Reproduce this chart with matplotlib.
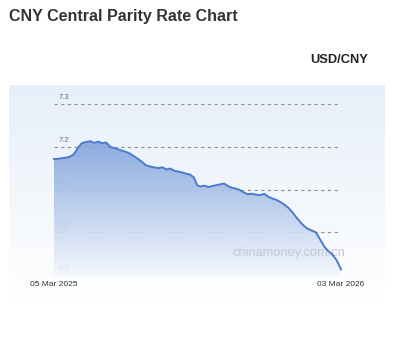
import numpy as np
import pandas as pd
import matplotlib
matplotlib.use("Agg")
import matplotlib.pyplot as plt
from matplotlib.patches import Polygon

plt.rcParams["font.family"] = ["Liberation Sans", "DejaVu Sans"]

# days since 05 Mar 2025 and USD/CNY central parity
days = [0, 6, 13, 19, 25, 30, 35, 40, 46, 51, 56, 61, 66, 71, 76, 81, 86, 91,
        96, 101, 106, 111, 116, 121, 126, 132, 137, 142, 147, 152, 157, 162,
        167, 172, 177, 181, 185, 190, 195, 200, 205, 210, 215, 220, 225, 230,
        235, 240, 245, 250, 255, 261, 266, 271, 276, 281, 286, 291, 296, 301,
        306, 311, 316, 321, 326, 331, 336, 342, 347, 352, 357, 360, 363]
rates = [7.171, 7.172, 7.174, 7.176, 7.182, 7.197, 7.208, 7.211, 7.213, 7.209,
         7.212, 7.208, 7.210, 7.200, 7.197, 7.194, 7.191, 7.188, 7.184, 7.178,
         7.172, 7.165, 7.157, 7.154, 7.152, 7.150, 7.152, 7.147, 7.149, 7.144,
         7.142, 7.140, 7.137, 7.135, 7.128, 7.110, 7.107, 7.109, 7.106, 7.108,
         7.110, 7.112, 7.114, 7.108, 7.104, 7.102, 7.099, 7.093, 7.089, 7.090,
         7.088, 7.087, 7.090, 7.083, 7.079, 7.076, 7.071, 7.065, 7.058, 7.048,
         7.036, 7.025, 7.015, 7.008, 7.004, 7.000, 6.985, 6.966, 6.956, 6.948,
         6.936, 6.925, 6.913]
y_ticks = [6.9, 7.0, 7.1, 7.2, 7.3]
x_labels = ["05 Mar 2025", "03 Mar 2026"]

dates = pd.Timestamp("2025-03-05") + pd.to_timedelta(days, unit="D")
xnum = matplotlib.dates.date2num(dates)
W, H = 400, 355

fig = plt.figure(figsize=(W / 100, H / 100), dpi=100)
fig.patch.set_facecolor("white")

# light blue panel behind the chart, fading to white at the bottom
bg = fig.add_axes([9 / W, 1 - 305 / H, 376 / W, 220 / H])
bg.set_axis_off()
bg_cmap = matplotlib.colors.LinearSegmentedColormap.from_list(
    "bg", ["#e7effa", "#f3f7fc", "#ffffff"])
bg.imshow(np.linspace(0, 1, 256).reshape(-1, 1), aspect="auto", cmap=bg_cmap,
          extent=[0, 1, 0, 1], origin="upper")
bg.set_xlim(0, 1)
bg.set_ylim(0, 1)

fig.text(9 / W, 1 - 16 / H, "CNY Central Parity Rate Chart", fontsize=11.5,
         fontweight="bold", color="#333333", va="center", ha="left")
fig.text(368 / W, 1 - 60 / H, "USD/CNY", fontsize=9.3, fontweight="bold",
         color="#222222", va="center", ha="right")

x0, x1 = 54, 341
ax = fig.add_axes([x0 / W, 1 - 275 / H, (x1 - x0) / W, 171 / H])
ax.set_facecolor("none")
for s in ax.spines.values():
    s.set_visible(False)
ax.set_xticks([])
ax.set_yticks([])

grid_end = xnum[0] + (xnum[-1] - xnum[0]) * (339 - x0) / (x1 - x0)
for t in y_ticks:
    ax.plot([xnum[0], grid_end], [t, t], ls=(0, (3, 3)), lw=0.8,
            color="#909090", zorder=1)
    ax.text(xnum[0] + 6, t + 0.006, f"{t:.1f}", fontsize=5.5, color="#6a6a6a",
            va="bottom", ha="left", zorder=1)

# gradient area under the line
fill_cmap = matplotlib.colors.LinearSegmentedColormap.from_list(
    "fill", ["#7fa2da", "#b6cbec", "#f4f7fd"])
img = ax.imshow(np.linspace(0, 1, 256).reshape(-1, 1), aspect="auto",
                cmap=fill_cmap, extent=[xnum[0], xnum[-1], 6.9, 7.22],
                origin="upper", alpha=0.9, zorder=2)
verts = [(xnum[0], 6.9)] + list(zip(xnum, rates)) + [(xnum[-1], 6.9)]
poly = Polygon(verts, closed=True, facecolor="none", edgecolor="none",
               transform=ax.transData)
ax.add_patch(poly)
img.set_clip_path(poly)
ax.set_xlim(xnum[0], xnum[-1])
ax.set_ylim(6.9, 7.3)

ax.text(1.015, 0.13, "chinamoney.com.cn", transform=ax.transAxes,
        fontsize=9.3, color="#c4c8cf", ha="right", va="center", zorder=3)
ax.plot(xnum, rates, color="#4a7bcc", lw=1.4, zorder=4, clip_on=False)

fig.text(x0 / W, 1 - 285 / H, x_labels[0], fontsize=6, color="#333333",
         ha="center", va="center")
fig.text(x1 / W, 1 - 285 / H, x_labels[1], fontsize=6, color="#333333",
         ha="center", va="center")

fig.savefig("out.png", dpi=100, facecolor="white")
